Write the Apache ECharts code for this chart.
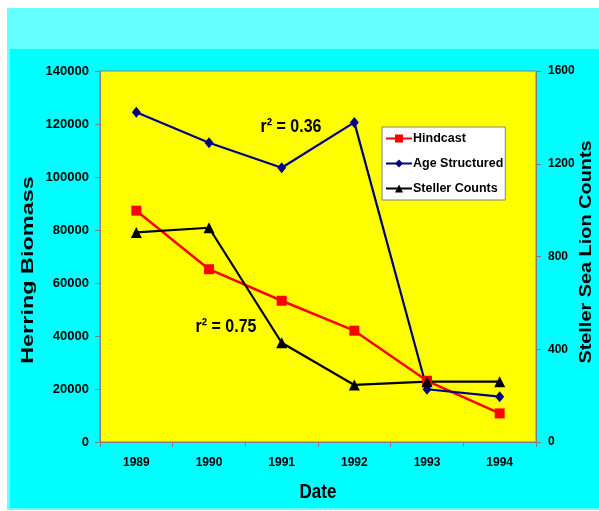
<!DOCTYPE html>
<html>
<head>
<meta charset="utf-8">
<title>Herring Biomass and Steller Sea Lion Counts</title>
<script src="https://cdn.jsdelivr.net/npm/echarts@6/dist/echarts.min.js"></script>
<style>
  html, body { margin: 0; padding: 0; background: #ffffff; }
  #frame { position: absolute; left: 7px; top: 8px; width: 592px; height: 502px; background: #66ffff; }
  #panel { position: absolute; left: 10px; top: 49px; width: 589px; height: 459px; background: #00ffff; }
  #chart { position: absolute; left: 0; top: 0; width: 599px; height: 511px; }
</style>
</head>
<body>
<div id="frame"></div>
<div id="panel"></div>
<div id="chart"></div>
<script>
// Survey years
const years = ['1989', '1990', '1991', '1992', '1993', '1994'];

// Herring biomass estimates (left axis)
const hindcast = [87300, 65200, 53300, 42000, 23100, 10800];
const ageStructured = [124400, 112900, 103500, 120600, 19900, 17100];

// Steller sea lion counts (right axis)
const stellerCounts = [904, 924, 428, 246, 260, 260];

// Axis ranges
const biomassRange = { min: 0, max: 140000, interval: 20000 };
const countRange = { min: 0, max: 1600, interval: 400 };

// Correlation notes
const notes = ['r\u00b2 = 0.36', 'r\u00b2 = 0.75'];

const FONT = 'Liberation Sans, Arial, sans-serif';
const axisGray = '#808080';
const plainNumber = v => String(v);

const chart = echarts.init(document.getElementById('chart'), null, { renderer: 'canvas' });

const option = {
  backgroundColor: 'transparent',
  animation: false,
  textStyle: { fontFamily: FONT },
  grid: {
    left: 100, right: 63, top: 71, bottom: 69,
    show: true,
    backgroundColor: '#ffff00',
    borderColor: axisGray,
    borderWidth: 1
  },
  legend: {
    orient: 'vertical',
    left: 382, top: 127,
    backgroundColor: '#ffffff',
    borderColor: axisGray,
    borderWidth: 1,
    padding: [5, 2, 5, 3],
    itemWidth: 26,
    itemHeight: 10,
    itemGap: 12,
    textStyle: { fontFamily: FONT, fontWeight: 'bold', fontSize: 12.5, color: '#000', padding: [0, 0, 0, -4] },
    data: ['Hindcast', 'Age Structured', 'Steller Counts']
  },
  xAxis: {
    type: 'category',
    data: years,
    boundaryGap: true,
    axisLine: { lineStyle: { color: axisGray, width: 1 } },
    axisTick: { show: true, interval: 0, length: 5, lineStyle: { color: axisGray } },
    axisLabel: { margin: 15, fontFamily: FONT, fontWeight: 'bold', fontSize: 12, color: '#000' },
    splitLine: { show: false }
  },
  yAxis: [
    {
      type: 'value',
      position: 'left',
      min: biomassRange.min, max: biomassRange.max, interval: biomassRange.interval,
      axisLine: { show: true, lineStyle: { color: axisGray, width: 1 } },
      axisTick: { show: true, length: 5, lineStyle: { color: axisGray } },
      axisLabel: { margin: 11, fontFamily: FONT, fontWeight: 'bold', fontSize: 13, color: '#000', formatter: plainNumber },
      splitLine: { show: false }
    },
    {
      type: 'value',
      position: 'right',
      min: countRange.min, max: countRange.max, interval: countRange.interval,
      axisLine: { show: true, lineStyle: { color: axisGray, width: 1 } },
      axisTick: { show: true, length: 5, lineStyle: { color: axisGray } },
      axisLabel: { margin: 12, fontFamily: FONT, fontWeight: 'bold', fontSize: 12, color: '#000', formatter: plainNumber },
      splitLine: { show: false }
    }
  ],
  series: [
    {
      name: 'Hindcast',
      type: 'line',
      yAxisIndex: 0,
      data: hindcast,
      symbol: 'rect',
      symbolSize: 10,
      lineStyle: { color: '#ff0000', width: 2.5 },
      itemStyle: { color: '#ff0000' }
    },
    {
      name: 'Age Structured',
      type: 'line',
      yAxisIndex: 0,
      data: ageStructured,
      symbol: 'diamond',
      symbolSize: [9, 11],
      lineStyle: { color: '#000080', width: 2.2 },
      itemStyle: { color: '#000080' }
    },
    {
      name: 'Steller Counts',
      type: 'line',
      yAxisIndex: 1,
      data: stellerCounts,
      symbol: 'triangle',
      symbolSize: 11,
      lineStyle: { color: '#000000', width: 2.2 },
      itemStyle: { color: '#000000' }
    }
  ],
  graphic: [
    {
      type: 'text', x: 28, y: 270, rotation: Math.PI / 2, scaleX: 1.38,
      style: { text: 'Herring Biomass', font: 'bold 17px ' + FONT, fill: '#000', align: 'center', verticalAlign: 'middle' }
    },
    {
      type: 'text', x: 586, y: 252, rotation: Math.PI / 2, scaleX: 1.17,
      style: { text: 'Steller Sea Lion Counts', font: 'bold 17px ' + FONT, fill: '#000', align: 'center', verticalAlign: 'middle' }
    },
    {
      type: 'text', x: 318, y: 493, scaleY: 1.15,
      style: { text: 'Date', font: 'bold 17px ' + FONT, fill: '#000', align: 'center', verticalAlign: 'middle' }
    },
    {
      type: 'text', x: 291, y: 127, scaleY: 1.2,
      style: { text: notes[0], font: 'bold 16px ' + FONT, fill: '#000', align: 'center', verticalAlign: 'middle' }
    },
    {
      type: 'text', x: 226, y: 327, scaleY: 1.2,
      style: { text: notes[1], font: 'bold 16px ' + FONT, fill: '#000', align: 'center', verticalAlign: 'middle' }
    }
  ]
};

chart.setOption(option);
</script>
</body>
</html>
